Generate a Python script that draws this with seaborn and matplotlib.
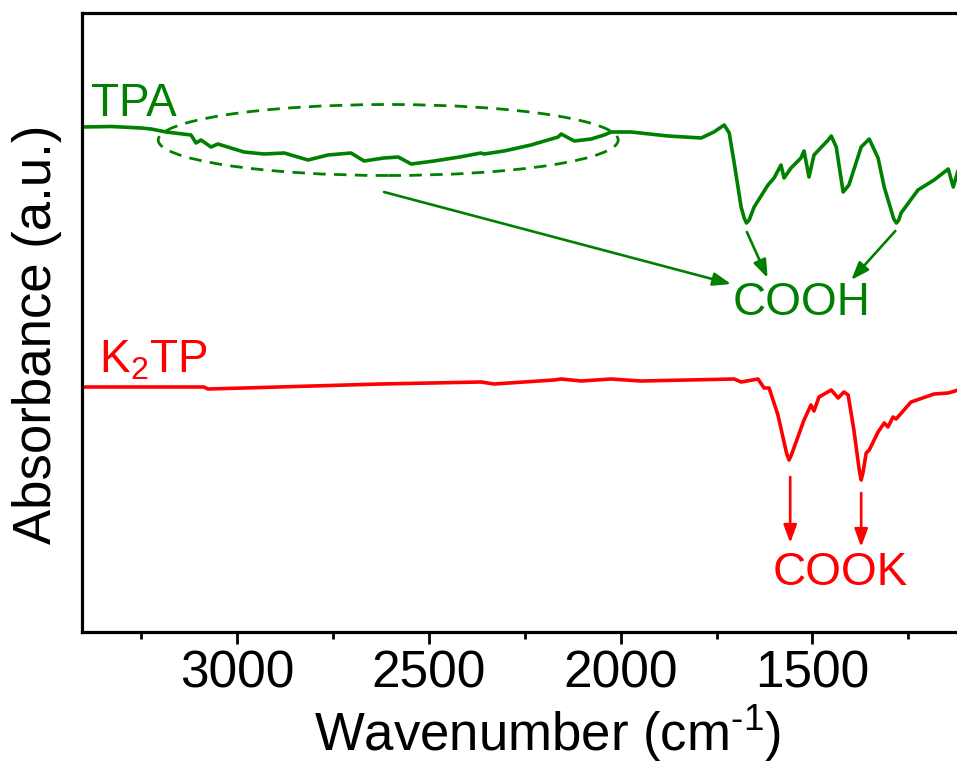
import numpy as np
import pandas as pd
import matplotlib
matplotlib.use('Agg')
import matplotlib.pyplot as plt
import matplotlib.ticker as plticker
from matplotlib.patches import Ellipse
import seaborn as sns

# FTIR spectra (wavenumber in cm-1, absorbance in arbitrary units, offset for display)
tpa_wn = [3404, 3328, 3250, 3224, 3185, 3120, 3107, 3094, 3068, 3050, 2982, 2930, 2877, 2815, 2763,
          2703, 2669, 2617, 2580, 2546, 2486, 2420, 2364, 2356, 2304, 2234, 2163, 2155, 2121, 2077,
          2043, 2025, 1973, 1876, 1790, 1757, 1730, 1717, 1704, 1686, 1678, 1672, 1665, 1652, 1616, 1600,
          1582, 1574, 1556, 1530, 1522, 1509, 1496, 1459, 1451, 1438, 1420, 1405, 1373, 1352,
          1329, 1313, 1288, 1281, 1275, 1269, 1225, 1183, 1146, 1133, 1120, 1105]
tpa_abs = [505, 505.5, 504, 503, 500, 497, 489, 492, 485, 488, 480, 478, 479, 472, 477,
           479, 471, 474, 475, 468, 471, 475, 479, 478, 481, 487, 495, 498, 491, 493,
           497, 500, 500, 496, 494, 500, 507, 499, 469, 425, 414, 409, 412, 425, 447, 454,
           467, 454, 464, 474, 481, 455, 477, 492, 496, 485, 440, 447, 485, 493,
           474, 445, 413, 409, 412, 419, 442, 452, 463, 445, 462, 465]

k2tp_wn = [3404, 3086, 3076, 2982, 2625, 2364, 2330, 2174, 2155, 2103, 2025, 1947, 1704, 1686,
           1642, 1626, 1613, 1590, 1567, 1561, 1555, 1538, 1522, 1504, 1496, 1483, 1451, 1433, 1418, 1407,
           1392, 1378, 1373, 1368, 1360, 1352, 1329, 1313, 1303, 1290, 1282, 1243, 1183, 1146, 1120, 1105]
k2tp_abs = [245, 245, 243, 244, 248, 250, 248, 252, 253, 251, 253, 251, 253, 250,
            253, 244, 244, 217, 178, 172, 177, 195, 212, 227, 221, 235, 242, 234, 240, 237,
            202, 162, 152, 160, 179, 182, 200, 209, 205, 215, 213, 230, 238, 239, 242, 243]

green = '#008000'
red = '#ff0000'

df = pd.concat([
    pd.DataFrame({'wn': tpa_wn, 'abs': tpa_abs, 'sample': 'TPA'}),
    pd.DataFrame({'wn': k2tp_wn, 'abs': k2tp_abs, 'sample': 'K2TP'}),
])

sns.set_theme(style='ticks')
plt.rcParams['font.family'] = ['Liberation Sans', 'DejaVu Sans']
plt.rcParams['mathtext.fontset'] = 'custom'
plt.rcParams['mathtext.rm'] = 'Liberation Sans'
plt.rcParams['mathtext.default'] = 'regular'
plt.rcParams['text.color'] = 'black'
plt.rcParams['axes.labelcolor'] = 'black'
plt.rcParams['xtick.color'] = 'black'

fig = plt.figure(figsize=(9.57, 7.69), dpi=100)
ax = fig.add_axes([81.7 / 957, 137 / 769, 884.2 / 957, 619 / 769])

sns.lineplot(data=df, x='wn', y='abs', hue='sample', palette={'TPA': green, 'K2TP': red},
             estimator=None, sort=False, linewidth=2.6, legend=False, ax=ax)

ax.set_xlim(3405, 1100)
ax.set_ylim(0, 619)
ax.set_yticks([])
ax.xaxis.set_major_locator(plticker.MultipleLocator(500))
ax.xaxis.set_minor_locator(plticker.MultipleLocator(250))
ax.tick_params(axis='x', which='major', direction='out', length=8.5, width=2, labelsize=37, pad=4,
               colors='black')
ax.tick_params(axis='x', which='minor', direction='out', length=5, width=2, colors='black')
for side in ['left', 'top', 'bottom']:
    ax.spines[side].set_linewidth(2.3)
    ax.spines[side].set_color('black')
ax.spines['right'].set_visible(False)

ax.set_xlabel('Wavenumber (cm$^{\u2010 1}$)', fontsize=38)
ax.set_ylabel('Absorbance (a.u.)', fontsize=38)
ax.xaxis.set_label_coords(0.527, -0.115)
ax.yaxis.set_label_coords(-0.022, 0.481)

# labels
ax.text(3381, 516, 'TPA', color=green, fontsize=33, ha='left', va='baseline')
ax.text(3360, 259, 'K$_2$TP', color=red, fontsize=33, ha='left', va='baseline')
ax.text(1707, 317, 'COOH', color=green, fontsize=33, ha='left', va='baseline')
ax.text(1603, 47, 'COOK', color=red, fontsize=33, ha='left', va='baseline')

# dashed ellipse around the broad O-H region
ax.add_patch(Ellipse((2606, 492), 1199, 71, fill=False, edgecolor=green,
                     linestyle=(0, (4.5, 3)), linewidth=2.0))

arrow = '-|>,head_length=0.6,head_width=0.22'
arrows = [((1712, 348), (2617, 440), green), ((1617, 354), (1671, 400), green),
          ((1399, 352), (1284, 401), green), ((1558, 89), (1558, 155), red),
          ((1373, 85), (1373, 139), red)]
for tip, start, col in arrows:
    ax.annotate('', xy=tip, xytext=start,
                arrowprops=dict(arrowstyle=arrow, color=col, lw=1.9, mutation_scale=18,
                                shrinkA=0, shrinkB=0))

fig.savefig('out.png', dpi=100)
